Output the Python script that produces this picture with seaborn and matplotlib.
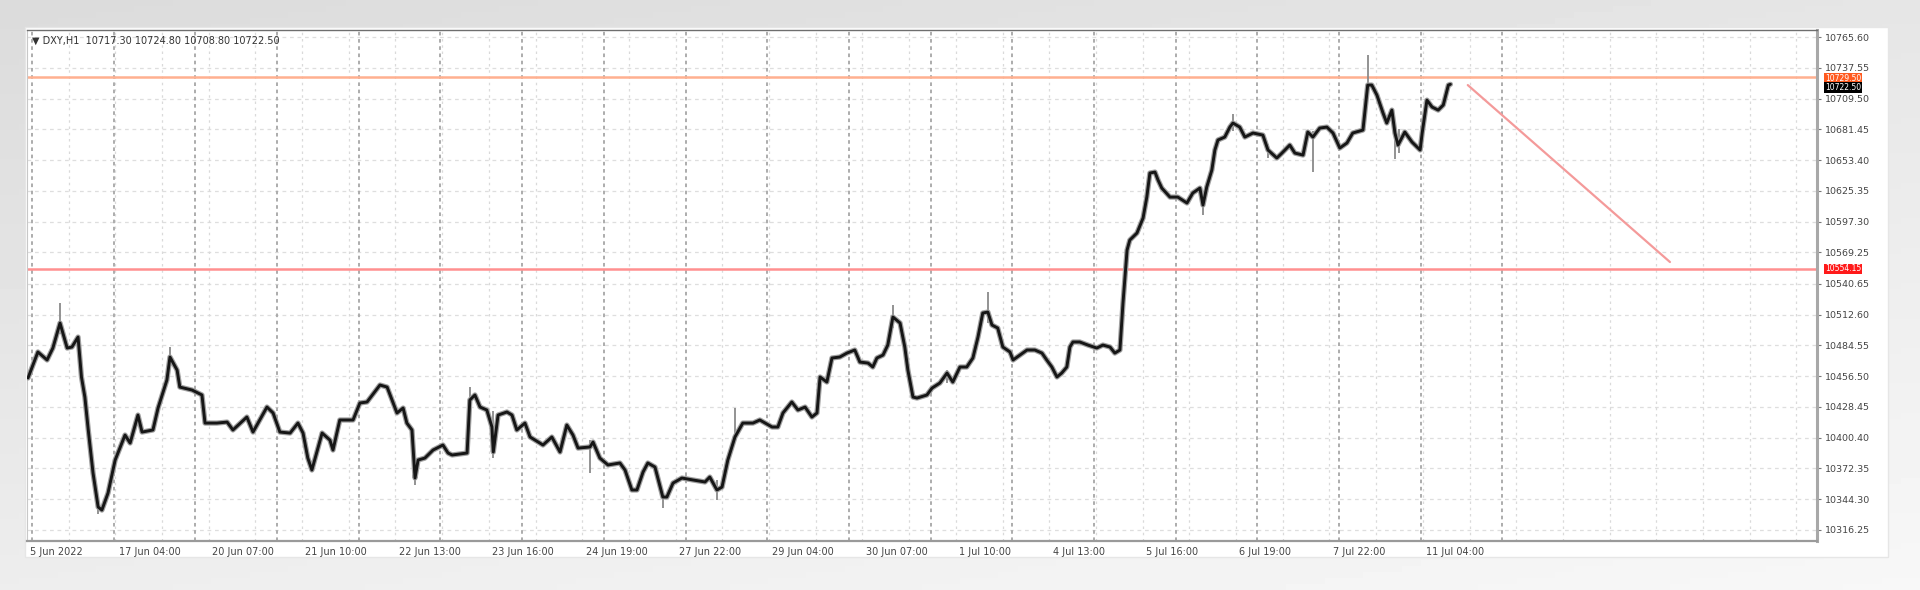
import numpy as np
import matplotlib
matplotlib.use("Agg")
import matplotlib.pyplot as plt
import matplotlib.transforms as mtransforms
from matplotlib.patches import Rectangle
import pandas as pd
import seaborn as sns

# --- datos (DXY H1, horas desde el inicio de la ventana, precio de cierre) ---
horas = [0.3, 3.2, 5.9, 7.6, 9.7, 11.8, 13.2, 15.0, 16, 17, 18, 19.4, 20.9, 22.0, 23.8, 25.9,
         28.8, 30.3, 32.6, 33.8, 37.0, 38.5, 41.1, 42.0, 44.1, 44.9, 48.5, 51.4, 52.3, 55.8,
         58.8, 60.5, 64.6, 66.4, 70.5, 72.3, 74.3, 77.3, 79.6, 81.1, 82.5, 83.7, 86.7, 89.0,
         89.9, 91.9, 95.8, 97.8, 99.9, 103.7, 105.8, 108.7, 110.5, 111.6, 113.1, 114.0, 114.9,
         116.9, 119.3, 122.2, 123.7, 124.9, 129.3, 130.1, 131.6, 133.1, 135.1, 136.6, 137.0,
         138.4, 141.0, 142.5, 143.9, 146.3, 147.8, 151.6, 154.2, 156.6, 158.6, 160.4, 161.9,
         165.4, 166.3, 168.3, 170.7, 174.2, 175.7, 177.7, 179.2, 181.0, 182.4, 184.5, 186.8,
         188.0, 189.8, 192.4, 195.7, 199.2, 200.6, 202.7, 204.2, 205.9, 208.0, 210.3, 213.3,
         215.3, 218.9, 220.6, 222.1, 224.7, 226.5, 228.6, 230.6, 232.1, 233.0, 235.0, 236.5,
         238.8, 240.9, 243.2, 244.7, 247.1, 248.5, 249.7, 251.5, 252.9, 254.4, 256.5, 257.9,
         258.8, 260.3, 261.5, 264.4, 265.9, 268.2, 270.3, 272.0, 274.1, 276.1, 277.9, 279.4,
         280.8, 282.3, 283.5, 285.2, 286.7, 288.8, 289.7, 291.7, 293.8, 296.1, 298.2, 299.6,
         301.1, 302.6, 304.0, 305.5, 306.4, 307.3, 309.3, 311.7, 314.3, 316.1, 318.2, 319.6,
         321.1, 322.0, 323.2, 324.0, 326.1, 327.9, 329.0, 329.9, 331.4, 332.3, 333.4, 335.8,
         338.1, 340.8, 342.5, 344.6, 345.5, 346.6, 348.1, 349.0, 349.9, 351.9, 353.4, 354.3,
         356.3, 357.8, 360.2, 363.1, 364.6, 367.2, 368.7, 371.0, 372.5, 374.9, 376.3, 377.8,
         379.8, 381.9, 383.7, 385.7, 387.8, 389.5, 392.5, 393.9, 395.1, 396.6, 398.4, 399.5,
         401.0, 401.9, 402.8, 404.8, 406.9, 409.3, 409.9, 411.3, 412.8, 414.6, 416.1, 417.6,
         418.2]
cierres = [10454.8, 10478.5, 10471.2, 10482.1, 10504.9, 10482.1, 10483.0, 10492.1, 10455.7,
           10437.4, 10407.4, 10368.2, 10337.2, 10334.4, 10349.9, 10380.0, 10402.8, 10395.5,
           10421.0, 10405.5, 10407.4, 10427.4, 10452.9, 10473.9, 10462.0, 10446.5, 10443.8,
           10439.3, 10413.7, 10413.7, 10414.6, 10407.4, 10419.2, 10405.5, 10428.3, 10422.9,
           10405.5, 10404.6, 10413.7, 10404.6, 10381.8, 10370.9, 10404.6, 10398.2, 10389.1,
           10416.5, 10416.5, 10432.0, 10432.9, 10448.4, 10446.5, 10422.9, 10427.4, 10413.7,
           10407.4, 10363.6, 10380.0, 10381.8, 10389.1, 10393.7, 10386.4, 10384.6, 10386.4,
           10434.7, 10439.3, 10428.3, 10425.6, 10410.1, 10387.3, 10421.0, 10423.8, 10421.0,
           10407.4, 10413.7, 10401.0, 10393.7, 10401.0, 10387.3, 10411.9, 10402.8, 10390.9,
           10391.9, 10396.4, 10381.8, 10375.5, 10377.3, 10370.9, 10352.7, 10352.7, 10369.1,
           10377.3, 10373.6, 10346.3, 10346.3, 10359.0, 10363.6, 10361.8, 10360.0, 10364.5,
           10352.7, 10355.4, 10380.0, 10401.0, 10413.7, 10413.7, 10416.5, 10410.1, 10410.1,
           10422.9, 10432.9, 10425.6, 10428.3, 10419.2, 10422.9, 10455.7, 10451.1, 10473.0,
           10473.9, 10477.5, 10480.3, 10469.3, 10468.4, 10464.8, 10473.0, 10475.7, 10484.8,
           10510.4, 10504.9, 10483.0, 10462.0, 10437.4, 10436.5, 10439.3, 10445.6, 10450.2,
           10459.3, 10451.1, 10464.8, 10464.8, 10473.0, 10492.1, 10514.0, 10514.9, 10503.1,
           10500.3, 10483.0, 10478.5, 10471.2, 10475.7, 10480.3, 10480.3, 10477.5, 10471.2,
           10464.8, 10455.7, 10459.3, 10464.8, 10483.0, 10487.6, 10487.6, 10484.8, 10482.1,
           10484.8, 10483.0, 10477.5, 10480.3, 10523.1, 10571.4, 10580.5, 10586.9, 10600.6,
           10619.7, 10641.6, 10642.5, 10635.2, 10627.9, 10619.7, 10619.7, 10614.3, 10623.4,
           10627.9, 10612.4, 10628.8, 10644.3, 10662.6, 10671.7, 10674.4, 10683.5, 10687.2,
           10683.5, 10674.4, 10678.1, 10676.2, 10662.6, 10655.3, 10659.8, 10667.1, 10659.8,
           10658.0, 10679.0, 10674.4, 10682.6, 10683.5, 10678.1, 10664.4, 10669.0, 10678.1,
           10680.8, 10721.8, 10721.8, 10712.7, 10696.3, 10687.2, 10699.0, 10678.1, 10667.1,
           10679.0, 10669.9, 10662.6, 10678.1, 10708.1, 10701.8, 10699.0, 10703.6, 10721.8,
           10722.5]

# mechas destacadas (hora, mínimo, máximo)
mecha_hora = [9.7, 21.0, 42.0, 114.0, 130.1, 137.0, 165.4, 186.8, 202.7, 208.0, 254.4,
              270.3, 282.3, 345.5, 354.3, 364.6, 377.8, 393.9, 401.9, 403.0]
mecha_min = [10495, 10331, 10468, 10357, 10428, 10382, 10368, 10336, 10344, 10398, 10500,
             10450, 10505, 10603, 10680, 10655, 10643, 10712, 10654, 10660]
mecha_max = [10523, 10345, 10483, 10385, 10447, 10425, 10398, 10352, 10362, 10427, 10521,
             10462, 10533, 10625, 10695, 10668, 10680, 10749, 10688, 10682]

ticks_precio = [10316.25, 10344.30, 10372.35, 10400.40, 10428.45, 10456.50, 10484.55,
                10512.60, 10540.65, 10569.25, 10597.30, 10625.35, 10653.40, 10681.45,
                10709.50, 10737.55, 10765.60]
etiquetas_tiempo = ["5 Jun 2022", "17 Jun 04:00", "20 Jun 07:00", "21 Jun 10:00",
                    "22 Jun 13:00", "23 Jun 16:00", "24 Jun 19:00", "27 Jun 22:00",
                    "29 Jun 04:00", "30 Jun 07:00", "1 Jul 10:00", "4 Jul 13:00",
                    "5 Jul 16:00", "6 Jul 19:00", "7 Jul 22:00", "11 Jul 04:00"]
cabecera = "\u25bc DXY,H1  10717.30 10724.80 10708.80 10722.50"

nivel_rojo = 10554.15
nivel_naranja = 10729.50
precio_actual = 10722.50
tendencia_horas = [423.3, 482.7]
tendencia_precios = [10721.8, 10560.5]

# --- figura ---
sns.set_style("white")
plt.rcParams["font.family"] = ["DejaVu Sans"]
fig = plt.figure(figsize=(19.2, 5.9), dpi=100)

# fondo gris degradado + ventana blanca
fondo = fig.add_axes([0, 0, 1, 1], zorder=-10)
gy, gx = np.mgrid[0:1:100j, 0:1:100j]
fondo.imshow(0.86 + 0.07 * gy + 0.04 * gx, cmap="gray", vmin=0, vmax=1, aspect="auto",
             extent=[0, 1, 0, 1], origin="upper")
fondo.add_patch(Rectangle((25 / 1920, 1 - 557 / 590), 1863 / 1920, 530 / 590,
                          facecolor="white", edgecolor="#e6e6e6", lw=1))
fondo.axis("off")

ax = fig.add_axes([27 / 1920, 1 - 541 / 590, 1790 / 1920, 511 / 590])
ax.set_xlim(0, 525.9)
ax.set_ylim(10306.2, 10772.0)

# rejilla: horizontales en los ticks, verticales cada media etiqueta, separadores de día
for v in ticks_precio:
    ax.axhline(v, color="#dedede", lw=0.9, ls=(0, (3, 3)), zorder=0)
paso_etiqueta = 27.44
pos_etiquetas = [-1.5 + paso_etiqueta * i for i in range(len(etiquetas_tiempo))]
for k in range(40):
    xg = -1.5 + paso_etiqueta / 2 * k
    if 0 < xg < 525.9:
        ax.axvline(xg, color="#dadada", lw=0.9, ls=(0, (2, 3)), zorder=0)
for k in range(19):
    ax.axvline(1.47 + 24 * k, color="#a6a6a6", lw=1.3, ls=(0, (2, 2)), zorder=0)

# niveles y línea de tendencia
ax.axhline(nivel_rojo, color="#ff9090", lw=1.8, zorder=1)
ax.axhline(nivel_naranja, color="#ffb090", lw=1.8, zorder=1)
ax.plot(tendencia_horas, tendencia_precios, color="#f49a9a", lw=1.6, zorder=1)

# precio
df = pd.DataFrame({"hora": horas, "cierre": cierres})
ax.vlines(mecha_hora, mecha_min, mecha_max, color="#8a8a8a", lw=1.3, zorder=2)
sns.lineplot(data=df, x="hora", y="cierre", sort=False, color="#a0a0a0", lw=3.8,
             ax=ax, zorder=3)
sns.lineplot(data=df, x="hora", y="cierre", sort=False, color="#161616", lw=2.1,
             ax=ax, zorder=4)

# ejes al estilo MT4
ax.set_xlabel("")
ax.set_ylabel("")
ax.yaxis.tick_right()
ax.set_yticks(ticks_precio)
ax.set_yticklabels([f"{v:.2f}" for v in ticks_precio], fontsize=6.8, color="#444444")
ax.tick_params(axis="y", length=3, width=0.8, color="#777777", pad=3)
ax.set_xticks(pos_etiquetas[1:])
ax.set_xticklabels([])
ax.tick_params(axis="x", length=3, width=0.8, color="#777777")
eje_x = mtransforms.blended_transform_factory(ax.transData, ax.transAxes)
for xp, txt in zip(pos_etiquetas, etiquetas_tiempo):
    ax.text(max(xp, 0) + 1.0, -0.012, txt, transform=eje_x, ha="left", va="top",
            fontsize=7, color="#444444")
for lado, col, lw in [("top", "#6e6e6e", 1.0), ("left", "#c8c8c8", 0.8),
                      ("bottom", "#9a9a9a", 1.6), ("right", "#a8a8a8", 2.2)]:
    ax.spines[lado].set_color(col)
    ax.spines[lado].set_linewidth(lw)

ax.text(0.003, 0.988, cabecera, transform=ax.transAxes, ha="left", va="top",
        fontsize=7, color="#333333")

# cajas de precio en la escala derecha (desplazadas en puntos para que no se pisen)
mezcla = mtransforms.blended_transform_factory(ax.transAxes, ax.transData)
for valor, dy_pt, fondo_caja in [(nivel_naranja, -1.0, "#ff5a1f"),
                                 (precio_actual, -2.5, "#000000"),
                                 (nivel_rojo, 0.0, "#ff1a1a")]:
    ax.annotate(f"{valor:.2f}", xy=(1.0045, valor), xycoords=mezcla,
                xytext=(0, dy_pt), textcoords="offset points", ha="left", va="center",
                fontsize=5.5, color="white", annotation_clip=False, zorder=10,
                bbox=dict(boxstyle="square,pad=0.12", fc=fondo_caja, ec="none"))

fig.savefig("out.png", dpi=100)
